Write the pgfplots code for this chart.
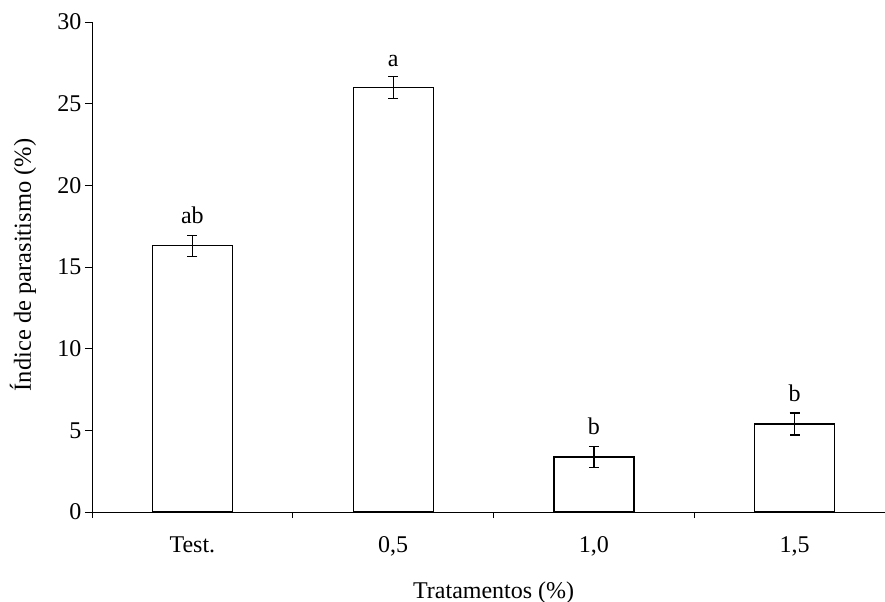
\documentclass[border=0pt]{standalone}
\usepackage{pgfplots}
\pgfplotsset{compat=1.18}
\usepackage{fontspec}
\setmainfont{Liberation Serif}
\begin{document}
\begin{tikzpicture}[font=\fontsize{24bp}{28bp}\selectfont]
\begin{axis}[
  at={(0,0)}, anchor=south west,
  scale only axis,
  width=793bp, height=490bp,
  xmin=-0.5, xmax=3.45,
  ymin=0, ymax=30,
  ytick={0,5,...,30},
  xtick={0,1,2,3},
  xticklabels={Test.,{0,5},{1,0},{1,5}},
  minor xtick={-0.5,0.5,1.5,2.5},
  axis x line*=bottom,
  axis y line*=left,
  axis line style={line width=0.9bp, -},
  tick align=outside,
  major tick length=7bp,
  minor tick length=6bp,
  major x tick style={draw=none},
  tick style={line width=0.9bp, black},
  /pgf/number format/assume math mode=true,
  ticklabel style={font=\fontsize{24bp}{28bp}\selectfont},
  xticklabel style={yshift=-14bp},
  yticklabel style={xshift=0bp},
  xlabel={Tratamentos (\%)},
  ylabel={Índice de parasitismo (\%)},
  x label style={at={(axis description cs:0.5065,0)}, anchor=base, yshift=-86bp},
  y label style={at={(axis description cs:-0.087,0.504)}, anchor=center, font=\fontsize{24.5bp}{28bp}\selectfont},
  clip=false,
]
\addplot[ybar, bar width=80bp, fill=white, draw=black, line width=1.2bp,
  error bars/.cd, y dir=both, y explicit,
  error bar style={line width=1.2bp, black},
  error mark options={rotate=90, mark size=5bp, line width=1.2bp, black}]
  coordinates {
    (0,16.3) +- (0,0.65)
    (1,25.97) +- (0,0.67)
    (2,3.37) +- (0,0.64)
    (3,5.39) +- (0,0.67)
  };
\node[anchor=base, yshift=12bp] at (axis cs:0,16.95) {ab};
\node[anchor=base, yshift=10bp] at (axis cs:1,26.64) {a};
\node[anchor=base, yshift=12bp] at (axis cs:2,4.01) {b};
\node[anchor=base, yshift=12bp] at (axis cs:3,6.06) {b};
\end{axis}
\pgfresetboundingbox
\path (-92bp,-90bp) rectangle (793bp,512bp);
\end{tikzpicture}
\end{document}
